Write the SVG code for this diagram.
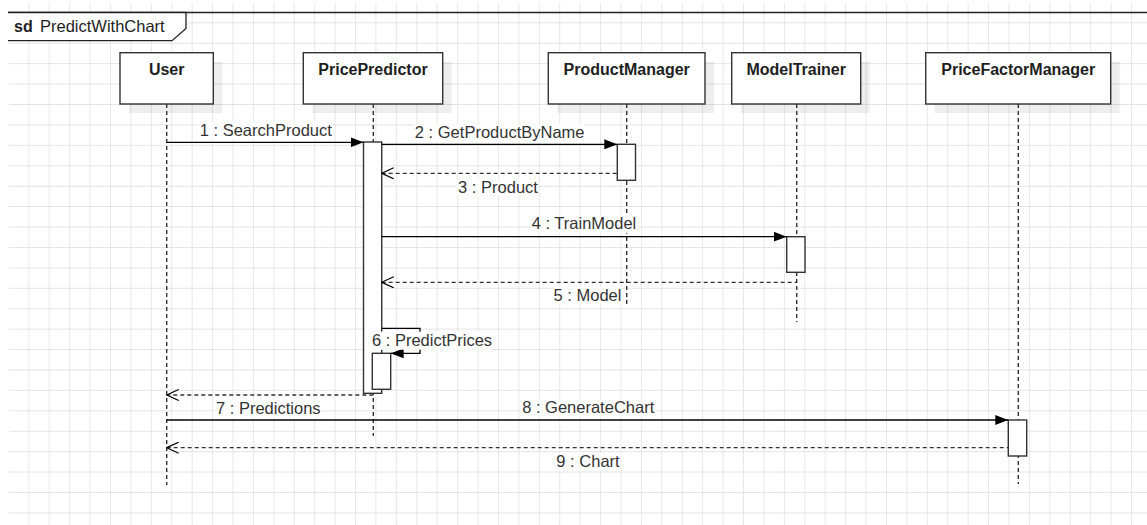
<svg xmlns="http://www.w3.org/2000/svg" width="1147" height="525" viewBox="0 0 1147 525">
  <defs>
    <pattern id="grid" x="7.9" y="1.9" width="20.42" height="20.42" patternUnits="userSpaceOnUse">
      <path d="M0 0 H20.42 M0 0 V20.42" fill="none" stroke="#dcdcdc" stroke-width="1.3"/>
    </pattern>
    <marker id="block" viewBox="0 0 13 10" refX="13" refY="5" markerWidth="13" markerHeight="10" markerUnits="userSpaceOnUse" orient="auto">
      <path d="M0 0 L13 5 L0 10 Z" fill="#000"/>
    </marker>
    <marker id="open" viewBox="0 0 14 12" refX="13" refY="6" markerWidth="14" markerHeight="12" markerUnits="userSpaceOnUse" orient="auto-start-reverse">
      <path d="M1 0.5 L13 6 L1 11.5" fill="none" stroke="#000" stroke-width="1.2"/>
    </marker>
  </defs>
  <style>
    .box { fill: #fff; stroke: #333; stroke-width: 1.4; }
    .shadow { fill: #000; fill-opacity: 0.065; }
    .head { font-family: "Liberation Sans", Arial, sans-serif; font-size: 16px; font-weight: bold; fill: #1e1e1e; text-anchor: middle; }
    .life { fill: none; stroke: #333; stroke-width: 1.4; stroke-dasharray: 4 3; }
    .act { fill: #fff; stroke: #333; stroke-width: 1.4; }
    .msg { fill: none; stroke: #000; stroke-width: 1.3; }
    .ret { fill: none; stroke: #333; stroke-width: 1.3; stroke-dasharray: 4 3; }
    .lbl { font-family: "Liberation Sans", Arial, sans-serif; font-size: 16.5px; fill: #333; text-anchor: middle; }
    .lblbg { fill: #fff; }
  </style>

  <!-- canvas and grid -->
  <rect x="0" y="0" width="1147" height="525" fill="#fff"/>
  <rect x="9" y="3" width="1138" height="522" fill="url(#grid)"/>

  <!-- sequence frame -->
  <g id="frame">
    <line x1="8" y1="12.5" x2="1147" y2="12.5" stroke="#222" stroke-width="1.3"/>
    <path d="M8 12.5 H186 V28.5 L172 40.7 H8" fill="#fff" stroke="#222" stroke-width="1.3"/>
    <text x="14" y="31.5" font-family="Liberation Sans, Arial, sans-serif" font-size="16" font-weight="bold" fill="#1e1e1e">sd</text>
    <text x="40" y="31.5" font-family="Liberation Sans, Arial, sans-serif" font-size="16.5" fill="#1e1e1e">PredictWithChart</text>
  </g>

  <!-- lifelines with headers -->
  <g id="user">
    <rect class="shadow" x="129" y="61.7" width="93.3" height="51.3"/>
    <rect class="box" x="120" y="52.7" width="93.3" height="51.3"/>
    <text class="head" x="166.7" y="75">User</text>
    <line class="life" x1="166.7" y1="104" x2="166.7" y2="485"/>
  </g>
  <g id="pricepredictor">
    <rect class="shadow" x="312.3" y="61.7" width="139.4" height="51.3"/>
    <rect class="box" x="303.3" y="52.7" width="139.4" height="51.3"/>
    <text class="head" x="373" y="75">PricePredictor</text>
    <line class="life" x1="373.3" y1="104" x2="373.3" y2="436"/>
    <rect class="act" x="363.5" y="142" width="18.2" height="251.3"/>
    <rect class="act" x="372.3" y="353.3" width="18.4" height="36"/>
  </g>
  <g id="productmanager">
    <rect class="shadow" x="557.3" y="61.7" width="156.7" height="51.3"/>
    <rect class="box" x="548.3" y="52.7" width="156.7" height="51.3"/>
    <text class="head" x="626.7" y="75">ProductManager</text>
    <line class="life" x1="626.7" y1="104" x2="626.7" y2="307"/>
    <rect class="act" x="617.3" y="144.3" width="18.2" height="36"/>
  </g>
  <g id="modeltrainer">
    <rect class="shadow" x="740.7" y="61.7" width="129" height="51.3"/>
    <rect class="box" x="731.7" y="52.7" width="129" height="51.3"/>
    <text class="head" x="796.2" y="75">ModelTrainer</text>
    <line class="life" x1="796.7" y1="104" x2="796.7" y2="322"/>
    <rect class="act" x="786.7" y="236.7" width="18.3" height="35.6"/>
  </g>
  <g id="pricefactormanager">
    <rect class="shadow" x="934.7" y="61.7" width="185" height="51.3"/>
    <rect class="box" x="925.7" y="52.7" width="185" height="51.3"/>
    <text class="head" x="1018.2" y="75">PriceFactorManager</text>
    <line class="life" x1="1018.3" y1="104" x2="1018.3" y2="484"/>
    <rect class="act" x="1008.3" y="420" width="18.4" height="36"/>
  </g>

  <!-- messages -->
  <g id="messages">
    <line class="msg" x1="166.7" y1="142.3" x2="363.5" y2="142.3" marker-end="url(#block)"/>
    <line class="msg" x1="381.7" y1="144.3" x2="617.3" y2="144.3" marker-end="url(#block)"/>
    <line class="ret" x1="381.7" y1="173.3" x2="617.3" y2="173.3" marker-start="url(#open)"/>
    <line class="msg" x1="381.7" y1="236.7" x2="786.7" y2="236.7" marker-end="url(#block)"/>
    <line class="ret" x1="381.7" y1="282.3" x2="796.7" y2="282.3" marker-start="url(#open)"/>
    <path class="msg" d="M381.7 328.3 H420 V353.3 H390.7" marker-end="url(#block)"/>
    <path class="ret" d="M373.3 395 H166.7" marker-end="url(#open)"/>
    <line class="msg" x1="166.7" y1="420" x2="1008.3" y2="420" marker-end="url(#block)"/>
    <line class="ret" x1="166.7" y1="447.7" x2="1008.3" y2="447.7" marker-start="url(#open)"/>
  </g>

  <!-- message labels -->
  <g id="labels">
    <rect class="lblbg" x="198.6" y="121.7" width="134.3" height="18"/>
    <text class="lbl" x="265.8" y="135.7">1 : SearchProduct</text>
    <rect class="lblbg" x="414.2" y="124.3" width="171" height="18"/>
    <text class="lbl" x="499.7" y="138.3">2 : GetProductByName</text>
    <rect class="lblbg" x="457.1" y="178.7" width="81.8" height="18"/>
    <text class="lbl" x="498" y="192.7">3 : Product</text>
    <rect class="lblbg" x="530.2" y="215.3" width="107.5" height="18"/>
    <text class="lbl" x="584" y="229.3">4 : TrainModel</text>
    <rect class="lblbg" x="552.5" y="287" width="70" height="18"/>
    <text class="lbl" x="587.5" y="301">5 : Model</text>
    <rect class="lblbg" x="371" y="331.7" width="122" height="18"/>
    <text class="lbl" x="372" y="345.7" style="text-anchor:start">6 : PredictPrices</text>
    <rect class="lblbg" x="215" y="400.3" width="106.5" height="18"/>
    <text class="lbl" x="268.3" y="414.3">7 : Predictions</text>
    <rect class="lblbg" x="521.2" y="399.3" width="134" height="18"/>
    <text class="lbl" x="588.2" y="413.3">8 : GenerateChart</text>
    <rect class="lblbg" x="555.3" y="452.7" width="65.3" height="18"/>
    <text class="lbl" x="588" y="466.7">9 : Chart</text>
  </g>
</svg>
